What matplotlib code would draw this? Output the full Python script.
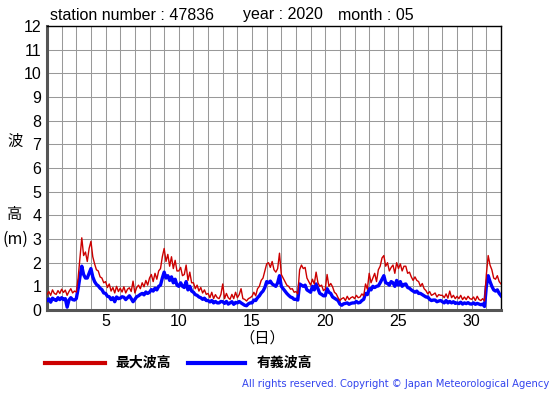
import numpy as np
import matplotlib
matplotlib.use("Agg")
import matplotlib.pyplot as plt

# 3-hourly samples, day 1.000 .. 31.875, plus end point at 32.0
max_wave = [
    0.65, 0.78, 0.62, 0.85, 0.70, 0.66, 0.82, 0.70,   # 1
    0.88, 0.74, 0.84, 0.62, 0.78, 0.90, 0.72, 0.80,   # 2
    0.76, 1.35, 2.20, 3.05, 2.30, 2.45, 2.05, 2.60,   # 3
    2.90, 2.25, 1.95, 1.70, 1.65, 1.40, 1.35, 1.15,   # 4
    1.20, 0.95, 1.10, 0.80, 0.95, 0.72, 1.00, 0.78,   # 5
    0.92, 0.76, 0.98, 0.72, 0.88, 0.94, 0.78, 1.22,   # 6
    0.72, 0.95, 1.05, 0.90, 1.15, 0.98, 1.25, 1.05,   # 7
    1.35, 1.50, 1.20, 1.55, 1.30, 1.65, 1.75, 2.25,   # 8
    2.60, 2.05, 2.35, 1.85, 2.25, 1.75, 2.10, 1.65,   # 9
    1.65, 1.80, 1.45, 1.50, 1.90, 1.25, 1.60, 1.15,   # 10
    1.15, 0.90, 1.05, 0.80, 0.95, 0.72, 0.85, 0.66,   # 11
    0.70, 0.52, 0.75, 0.48, 0.65, 0.52, 0.48, 0.66,   # 12
    1.10, 0.48, 0.70, 0.52, 0.45, 0.66, 0.48, 0.75,   # 13
    0.52, 0.65, 0.90, 0.48, 0.45, 0.38, 0.48, 0.52,   # 14
    0.58, 0.75, 0.60, 0.90, 1.00, 1.25, 1.35, 1.65,   # 15
    1.95, 2.00, 1.80, 2.05, 1.70, 1.60, 1.75, 2.40,   # 16
    1.50, 1.35, 1.20, 1.05, 1.00, 0.88, 0.90, 0.75,   # 17
    0.78, 0.68, 1.70, 1.90, 1.75, 1.80, 1.35, 1.20,   # 18
    1.05, 1.30, 1.10, 1.60, 1.15, 1.00, 1.05, 0.82,   # 19
    0.88, 1.50, 1.00, 1.12, 0.98, 0.75, 0.68, 0.52,   # 20
    0.40, 0.48, 0.52, 0.40, 0.58, 0.44, 0.52, 0.56,   # 21
    0.48, 0.62, 0.52, 0.55, 0.68, 0.60, 1.10, 0.88,   # 22
    1.55, 1.15, 1.35, 1.55, 1.20, 1.70, 1.85, 2.20,   # 23
    2.30, 1.85, 2.00, 1.65, 1.80, 1.90, 1.55, 2.00,   # 24
    1.75, 1.95, 1.65, 1.85, 1.85, 1.55, 1.60, 1.40,   # 25
    1.25, 1.40, 1.25, 1.20, 1.00, 1.12, 0.90, 0.82,   # 26
    0.68, 0.78, 0.62, 0.66, 0.72, 0.55, 0.65, 0.62,   # 27
    0.62, 0.52, 0.68, 0.50, 0.80, 0.52, 0.62, 0.48,   # 28
    0.58, 0.48, 0.62, 0.44, 0.55, 0.44, 0.58, 0.48,   # 29
    0.45, 0.55, 0.40, 0.58, 0.44, 0.40, 0.48, 0.38,   # 30
    1.50, 2.30, 1.90, 1.70, 1.35, 1.30, 1.45, 1.20,   # 31
    1.10,
]
sig_wave = [
    0.40, 0.47, 0.33, 0.50, 0.44, 0.40, 0.52, 0.44,   # 1
    0.52, 0.44, 0.48, 0.12, 0.42, 0.52, 0.44, 0.42,   # 2
    0.48, 0.90, 1.40, 1.85, 1.50, 1.35, 1.35, 1.55,   # 3
    1.75, 1.40, 1.20, 1.08, 1.02, 0.92, 0.86, 0.72,   # 4
    0.70, 0.58, 0.56, 0.44, 0.52, 0.35, 0.55, 0.48,   # 5
    0.50, 0.56, 0.54, 0.44, 0.52, 0.60, 0.48, 0.35,   # 6
    0.45, 0.56, 0.60, 0.66, 0.70, 0.64, 0.76, 0.70,   # 7
    0.75, 0.86, 0.80, 0.92, 0.85, 1.00, 1.05, 1.35,   # 8
    1.60, 1.35, 1.45, 1.25, 1.40, 1.15, 1.30, 1.05,   # 9
    1.00, 1.15, 1.00, 0.95, 1.20, 0.85, 1.00, 0.80,   # 10
    0.75, 0.65, 0.62, 0.55, 0.52, 0.45, 0.50, 0.40,   # 11
    0.40, 0.34, 0.40, 0.30, 0.36, 0.30, 0.30, 0.36,   # 12
    0.35, 0.28, 0.36, 0.25, 0.30, 0.35, 0.24, 0.32,   # 13
    0.30, 0.36, 0.30, 0.25, 0.20, 0.18, 0.26, 0.30,   # 14
    0.30, 0.42, 0.40, 0.52, 0.60, 0.72, 0.80, 0.95,   # 15
    1.20, 1.15, 1.22, 1.10, 1.05, 1.00, 1.15, 1.45,   # 16
    1.00, 0.90, 0.80, 0.70, 0.62, 0.55, 0.52, 0.45,   # 17
    0.45, 0.42, 1.10, 1.05, 1.00, 1.05, 0.85, 0.80,   # 18
    0.75, 1.00, 0.85, 1.10, 0.90, 0.70, 0.66, 0.60,   # 19
    0.60, 0.90, 0.75, 0.70, 0.55, 0.50, 0.45, 0.40,   # 20
    0.25, 0.20, 0.26, 0.28, 0.30, 0.24, 0.28, 0.30,   # 21
    0.30, 0.36, 0.30, 0.32, 0.40, 0.45, 0.70, 0.65,   # 22
    0.90, 0.85, 1.00, 0.95, 1.00, 1.02, 1.15, 1.30,   # 23
    1.45, 1.15, 1.12, 1.05, 1.20, 1.15, 1.00, 1.25,   # 24
    1.05, 1.20, 1.00, 1.08, 1.10, 0.95, 0.92, 0.85,   # 25
    0.80, 0.75, 0.80, 0.70, 0.70, 0.65, 0.60, 0.55,   # 26
    0.55, 0.45, 0.40, 0.42, 0.42, 0.35, 0.38, 0.40,   # 27
    0.35, 0.30, 0.40, 0.30, 0.36, 0.30, 0.35, 0.28,   # 28
    0.30, 0.27, 0.33, 0.25, 0.30, 0.27, 0.31, 0.26,   # 29
    0.25, 0.30, 0.24, 0.28, 0.25, 0.22, 0.25, 0.15,   # 30
    1.00, 1.45, 1.20, 1.00, 0.85, 0.80, 0.85, 0.70,   # 31
    0.60,
]
days = 1 + np.arange(len(max_wave)) / 8.0

x_ticks = [5, 10, 15, 20, 25, 30]
y_ticks = list(range(0, 13))
title_parts = ["station number : 47836", "year : 2020", "month : 05"]
legend_labels = ["最大波高", "有義波高"]
copyright_text = "All rights reserved. Copyright \u00a9 Japan Meteorological Agency"

RED = "#cc0000"
BLUE = "#0000ff"
CJK = ["Noto Sans CJK JP", "DejaVu Sans"]

fig = plt.figure(figsize=(5.55, 3.95), dpi=100)
W, H = 555, 395
ax = fig.add_axes([47 / W, 1 - 310 / H, (501 - 47) / W, (310 - 26) / H])

ax.plot(days, sig_wave, color=BLUE, lw=2.4, zorder=3)
ax.plot(days, max_wave, color=RED, lw=1.0, zorder=4)

ax.set_xlim(1, 32)
ax.set_ylim(0, 12)
ax.set_xticks(np.arange(1, 33), minor=True)
ax.set_xticks(x_ticks)
ax.set_yticks(y_ticks)
ax.grid(True, which="both", color="#999999", lw=0.75, zorder=1)
ax.tick_params(which="both", length=0)
ax.tick_params(axis="y", pad=4, labelsize=11.5)
ax.tick_params(axis="x", pad=3, labelsize=11.5)
for lab in ax.get_xticklabels() + ax.get_yticklabels():
    lab.set_fontfamily("Liberation Sans")

for s in ["top", "right"]:
    ax.spines[s].set_color("black")
    ax.spines[s].set_linewidth(1.0)
for s in ["left", "bottom"]:
    ax.spines[s].set_color("#555555")
    ax.spines[s].set_linewidth(2.2)

for txt, xp in zip(title_parts, [50, 243, 338]):
    fig.text(xp / W, 1 - 15 / H, txt, fontsize=11.5, family="Liberation Sans",
             va="center", ha="left")

fig.text(15 / W, 1 - 141 / H, "波", fontsize=11, family=CJK, va="center", ha="center")
fig.text(15 / W, 1 - 215 / H, "高", fontsize=11, family=CJK, va="center", ha="center")
fig.text(15 / W, 1 - 239 / H, "(m)", fontsize=11.5, family=CJK, va="center", ha="center")
fig.text(262 / W, 1 - 338 / H, "（日）", fontsize=11, family=CJK, va="center", ha="center")

# legend
ly = 1 - 363 / H
fig.add_artist(plt.Line2D([45 / W, 105 / W], [ly, ly], color=RED, lw=3))
fig.text(115 / W, ly, legend_labels[0], fontsize=10, family=CJK, weight="bold",
         va="center", ha="left")
fig.add_artist(plt.Line2D([188 / W, 245 / W], [ly, ly], color=BLUE, lw=3))
fig.text(257 / W, ly, legend_labels[1], fontsize=10, family=CJK, weight="bold",
         va="center", ha="left")

fig.text(549 / W, 1 - 384 / H, copyright_text, fontsize=7.2, family="DejaVu Sans",
         color="#3344ee", va="center", ha="right")

fig.savefig("out.png", dpi=100)
